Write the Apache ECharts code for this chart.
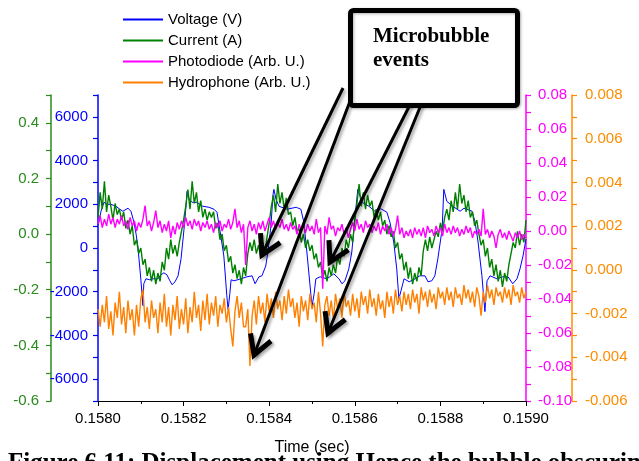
<!DOCTYPE html>
<html><head><meta charset="utf-8">
<script src="https://cdn.jsdelivr.net/npm/echarts@6/dist/echarts.min.js"></script>
<style>html,body{margin:0;padding:0;background:#fff}#c{width:639px;height:461px}</style>
</head><body><div id="c"></div>
<script>
// ---- data (time offsets in microseconds from 0.1580 s) ----
const T0 = 0.1580;
const STEP_US = 5;
const seriesNames = ['Voltage (V)', 'Current (A)', 'Photodiode (Arb. U.)', 'Hydrophone (Arb. U.)'];

const voltageTimeUs = [0,2,7,14,21,30,42,51,58,70,77,84,89,93,100,105,107,112,121,128,140,147,154,161,168,173,180,187,194,201,206,208,213,220,231,245,259,271,278,287,294,301,304,308,311,318,334,348,360,367,371,376,383,392,397,404,409,411,416,423,442,463,474,481,488,495,500,505,509,519,535,551,563,570,577,586,593,600,607,617,633,647,654,663,675,682,691,698,703,708,715,727,741,752,764,771,780,787,794,804,808,815,829,846,855,862,874,881,888,897,904,909,916,932,946,958,969,979,986,993,1000];
const voltageV = [1045,1182,1680,2090,2000,2000,1909,1773,1682,1818,1682,1182,636,91,-1409,-2636,-1636,-1409,-1455,-1409,-1409,-1227,-1136,-1227,-1500,-1682,-1545,-1273,-500,864,2000,2591,2227,2090,2090,1909,1864,1773,1636,545,-364,-2182,-2818,-2091,-1455,-1500,-1409,-1318,-1273,-1636,-1591,-1318,-1273,-818,-182,1000,2455,2682,2227,1909,1773,1864,1773,1182,-182,-1636,-2682,-2091,-1409,-1318,-1409,-1182,-1409,-1636,-1500,-955,-182,1318,2682,2090,1909,1682,1818,1773,1636,1182,273,-955,-2318,-1955,-1409,-1545,-1409,-1273,-1273,-1545,-1500,-1273,-500,864,2682,2136,1909,1682,1818,1773,1682,1182,273,-1273,-2909,-1500,-1273,-1409,-1318,-1318,-1636,-1409,-955,-364,409];

const currentA = [
0.06,0.15,0.09,0.19,0.08,0.14,0.10,0.05,0.11,0.07,
0.09,0.05,0.08,0.02,0.05,0.00,0.03,-0.04,-0.02,-0.07,
-0.05,-0.11,-0.09,-0.15,-0.12,-0.17,-0.13,-0.18,-0.14,-0.17,
-0.10,-0.13,-0.05,-0.09,-0.02,-0.07,-0.04,-0.08,-0.03,0.01,
0.05,0.10,0.16,0.09,0.19,0.11,0.15,0.08,0.12,0.06,
0.09,0.05,0.08,0.06,0.08,0.02,0.04,-0.02,0.00,-0.06,
-0.04,-0.10,-0.08,-0.14,-0.11,-0.16,-0.13,-0.18,-0.12,-0.15,
-0.07,-0.03,-0.06,-0.02,-0.07,-0.04,-0.08,-0.03,-0.06,-0.01,
0.04,0.10,0.14,0.08,0.18,0.11,0.15,0.09,0.13,0.07,
0.08,0.03,0.06,0.01,0.02,-0.03,0.00,-0.05,-0.02,-0.06,
-0.04,-0.09,-0.07,-0.12,-0.10,-0.16,-0.13,-0.17,-0.12,-0.15,
-0.11,-0.14,-0.08,-0.11,-0.05,-0.08,-0.02,-0.05,0.00,-0.03,
0.05,0.11,0.18,0.10,0.15,0.09,0.14,0.10,0.12,0.06,
0.09,0.05,0.08,0.03,0.05,0.00,0.03,-0.01,0.01,-0.05,
-0.03,-0.09,-0.07,-0.13,-0.10,-0.16,-0.12,-0.18,-0.14,-0.17,
-0.12,-0.15,-0.06,-0.02,-0.06,-0.01,-0.05,-0.02,0.01,-0.01,
0.04,0.01,0.06,0.09,0.05,0.12,0.08,0.15,0.09,0.18,
0.11,0.14,0.08,0.12,0.06,0.08,0.03,0.05,0.00,-0.04,
-0.02,-0.08,-0.05,-0.12,-0.09,-0.15,-0.11,-0.17,-0.13,-0.19,
-0.14,-0.17,-0.11,-0.07,-0.03,-0.05,0.01,-0.04,0.00,-0.03,
0.05];

const photodiode = [
0.004,0.009,0.002,0.007,0.003,0.010,0.004,0.008,0.002,0.007,
0.004,0.009,0.003,0.006,0.001,0.008,0.003,0.006,0.000,0.005,
0.002,0.007,0.015,0.003,0.006,0.000,0.005,0.012,0.002,0.006,
-0.001,0.004,0.000,0.006,-0.004,0.003,-0.002,0.005,0.001,0.006,
0.002,0.008,0.003,0.006,0.001,0.007,0.003,0.006,0.000,0.005,
0.002,0.006,0.001,0.004,-0.001,0.005,0.002,0.006,0.000,0.004,
0.002,0.007,0.001,0.005,0.013,0.002,0.006,-0.001,0.004,-0.020,
0.002,0.006,0.000,0.004,-0.002,0.005,0.001,0.006,0.000,0.004,
0.008,0.002,0.006,0.001,0.005,0.002,0.007,0.001,0.004,0.000,
0.005,0.001,0.003,-0.002,0.004,0.000,0.003,-0.001,0.004,0.000,
0.003,-0.002,0.007,-0.001,0.002,-0.034,0.003,-0.002,0.008,0.001,
0.003,-0.003,0.002,0.000,0.004,-0.002,0.002,-0.004,0.001,0.005,
0.000,0.007,0.001,0.004,-0.001,0.006,0.002,0.004,-0.001,0.003,
0.000,0.005,-0.002,0.003,0.000,0.004,-0.002,0.002,-0.003,0.001,
0.009,-0.002,0.002,-0.004,0.000,-0.003,0.001,-0.004,0.002,-0.002,
0.001,-0.003,0.002,-0.004,0.003,-0.001,0.001,-0.003,0.003,-0.001,
0.002,-0.003,0.004,-0.001,0.002,-0.002,0.003,-0.001,0.002,-0.003,
0.001,-0.002,0.003,-0.001,0.002,-0.004,0.000,-0.002,0.001,-0.003,
0.013,-0.002,0.001,-0.004,0.000,-0.003,-0.010,-0.002,0.001,-0.004,
-0.001,-0.005,0.000,-0.003,-0.006,-0.001,-0.004,0.000,-0.005,-0.002,
-0.004];

const hydrophone = [
-0.0018,-0.0026,-0.0016,-0.0024,-0.0012,-0.0027,-0.0019,-0.0030,-0.0015,-0.0022,
-0.0010,-0.0025,-0.0017,-0.0029,-0.0014,-0.0023,-0.0018,-0.0030,-0.0016,-0.0026,
-0.0013,-0.0009,-0.0024,-0.0017,-0.0027,-0.0014,-0.0022,-0.0018,-0.0029,-0.0015,
-0.0024,-0.0011,-0.0026,-0.0017,-0.0030,-0.0016,-0.0023,-0.0012,-0.0027,-0.0018,
-0.0025,-0.0013,-0.0029,-0.0017,-0.0024,-0.0010,-0.0022,-0.0016,-0.0028,-0.0014,
-0.0023,-0.0011,-0.0025,-0.0015,-0.0021,-0.0012,-0.0026,-0.0016,-0.0020,-0.0013,
-0.0024,-0.0017,-0.0027,-0.0035,-0.0019,-0.0012,-0.0022,-0.0015,-0.0026,-0.0026,
-0.0018,-0.0044,-0.0021,-0.0014,-0.0025,-0.0012,-0.0020,-0.0015,-0.0024,-0.0011,
-0.0019,-0.0013,-0.0022,-0.0010,-0.0018,-0.0014,-0.0023,-0.0012,-0.0020,-0.0009,
-0.0017,-0.0013,-0.0022,-0.0015,-0.0026,-0.0012,-0.0019,-0.0014,-0.0023,-0.0011,
-0.0018,-0.0015,-0.0024,-0.0010,-0.0020,-0.0035,-0.0016,-0.0012,-0.0021,-0.0014,
-0.0023,-0.0011,-0.0018,-0.0013,-0.0022,-0.0010,-0.0017,-0.0014,-0.0021,-0.0011,
-0.0019,-0.0013,-0.0022,-0.0010,-0.0016,-0.0012,-0.0020,-0.0009,-0.0017,-0.0013,
-0.0021,-0.0011,-0.0018,-0.0014,-0.0022,-0.0010,-0.0017,-0.0012,-0.0020,-0.0009,
-0.0016,-0.0012,-0.0019,-0.0010,-0.0016,-0.0011,-0.0018,-0.0009,-0.0015,-0.0011,
-0.0020,-0.0008,-0.0014,-0.0010,-0.0017,-0.0009,-0.0015,-0.0011,-0.0018,-0.0008,
-0.0013,-0.0010,-0.0016,-0.0008,-0.0014,-0.0010,-0.0017,-0.0008,-0.0013,-0.0011,
-0.0016,-0.0007,-0.0013,-0.0009,-0.0015,-0.0010,-0.0017,-0.0008,-0.0012,-0.0021,
-0.0010,-0.0015,-0.0007,-0.0013,-0.0009,-0.0016,-0.0008,-0.0012,-0.0010,-0.0015,
-0.0008,-0.0013,-0.0009,-0.0016,-0.0007,-0.0012,-0.0010,-0.0015,-0.0008,-0.0013,
-0.0010];

// ---- build ----
const toT = us => T0 + us * 1e-6;
const voltData = voltageTimeUs.map((us, i) => [toT(us), voltageV[i]]);
const gridData = arr => arr.map((v, i) => [toT(i * STEP_US), v]);

const FONT = "'Liberation Sans', Arial, sans-serif";
const C_BLUE = '#0000ff', C_GREEN = '#2a8a1e', C_MAG = '#ff00ff', C_ORG = '#ff8c00';

function yAx(color, pos, offset, min, max, interval, fmt, margin) {
  return {
    type: 'value', position: pos, offset: offset, min: min, max: max, interval: interval,
    axisLine: { show: true, onZero: false, lineStyle: { color: color, width: 1.5 } },
    axisTick: { show: true, length: 5, lineStyle: { color: color, width: 1.2 } },
    axisLabel: { color: color, fontSize: 15, fontFamily: FONT, margin: margin, formatter: fmt },
    splitLine: { show: false }
  };
}

function arrow(x1, y1, x2, y2) {
  const a = Math.atan2(y1 - y2, x1 - x2);
  const L = 22, s = 0.52;
  const shadow = { shadowColor: 'rgba(0,0,0,0.35)', shadowBlur: 3, shadowOffsetX: 2, shadowOffsetY: 2 };
  return [
    { type: 'line', z: 100, shape: { x1: x1, y1: y1, x2: x2, y2: y2 },
      style: Object.assign({ stroke: '#000', lineWidth: 3 }, shadow) },
    { type: 'polyline', z: 100, shape: { points: [
        [x2 + L * Math.cos(a + s), y2 + L * Math.sin(a + s)], [x2, y2],
        [x2 + L * Math.cos(a - s), y2 + L * Math.sin(a - s)]] },
      style: Object.assign({ stroke: '#000', lineWidth: 5, lineJoin: 'miter', fill: null }, shadow) }
  ];
}

const chart = echarts.init(document.getElementById('c'), null, { renderer: 'canvas' });
const option = {
  animation: false,
  backgroundColor: '#fff',
  grid: { left: 98, right: 113, top: 95, bottom: 58, containLabel: false },
  legend: {
    orient: 'vertical', left: 123, top: 12, padding: 0, itemWidth: 40, itemHeight: 14, itemGap: 6,
    icon: 'path://M0,6 L40,6 L40,8 L0,8 Z',
    textStyle: { fontSize: 15, fontFamily: FONT, color: '#000' },
    data: seriesNames
  },
  xAxis: {
    type: 'value', min: 0.1580, max: 0.1590, interval: 0.0002,
    name: 'Time (sec)', nameLocation: 'middle', nameGap: 39,
    nameTextStyle: { fontSize: 16, fontFamily: FONT, color: '#000' },
    axisLine: { onZero: false, lineStyle: { color: '#000', width: 1.2 } },
    axisTick: { length: 5, lineStyle: { color: '#000' } },
    minorTick: { show: true, splitNumber: 2, length: 3, lineStyle: { color: '#000' } },
    axisLabel: { fontSize: 15, fontFamily: FONT, color: '#000', margin: 10,
      formatter: v => v.toFixed(4) },
    splitLine: { show: false }
  },
  yAxis: [
    yAx(C_BLUE, 'left', 0, -7000, 7000, 1000,
      v => (Math.round(v / 1000) % 2 === 0 ? String(Math.round(v)) : ''), 10),
    yAx(C_GREEN, 'left', 47, -0.6, 0.5, 0.1,
      v => (Math.round(v * 10) % 2 === 0 ? v.toFixed(1) : ''), 12),
    yAx(C_MAG, 'right', 0, -0.10, 0.08, 0.01,
      v => (Math.round(v * 100) % 2 === 0 ? v.toFixed(2) : ''), 12),
    yAx(C_ORG, 'right', 46, -0.006, 0.008, 0.001,
      v => (Math.round(v * 1000) % 2 === 0 ? v.toFixed(3) : ''), 13)
  ],
  series: [
    { name: seriesNames[0], type: 'line', yAxisIndex: 0, data: voltData, symbol: 'none',
      lineStyle: { color: C_BLUE, width: 1 }, itemStyle: { color: C_BLUE } },
    { name: seriesNames[1], type: 'line', yAxisIndex: 1, data: gridData(currentA), symbol: 'none',
      lineStyle: { color: '#008000', width: 1.4 }, itemStyle: { color: '#008000' } },
    { name: seriesNames[2], type: 'line', yAxisIndex: 2, data: gridData(photodiode), symbol: 'none',
      lineStyle: { color: C_MAG, width: 1.4 }, itemStyle: { color: C_MAG } },
    { name: seriesNames[3], type: 'line', yAxisIndex: 3, data: gridData(hydrophone), symbol: 'none',
      lineStyle: { color: '#ff8000', width: 1.4 }, itemStyle: { color: '#ff8000' } }
  ],
  graphic: [].concat(
    arrow(343, 88, 262, 255),
    arrow(355, 88, 254, 355),
    arrow(415, 95, 330, 262),
    arrow(425, 95, 328, 333),
    [
      { type: 'rect', z: 110, shape: { x: 350.5, y: 10.5, width: 167, height: 95, r: 3 },
        style: { fill: '#fff', stroke: '#000', lineWidth: 5,
          shadowColor: 'rgba(0,0,0,0.3)', shadowBlur: 3, shadowOffsetX: 1, shadowOffsetY: 1 } },
      { type: 'text', z: 120, left: 373, top: 25,
        style: { text: 'Microbubble\nevents', fill: '#000', lineHeight: 24,
          font: "bold 21px 'Liberation Serif', 'Times New Roman', serif" } },
      { type: 'text', z: 120, left: 8, top: 451,
        style: { text: 'Figure 6.11: Displacement using Hence the bubble obscuring', fill: '#000',
          font: "bold 25px 'Liberation Serif', 'Times New Roman', serif" } }
    ]
  )
};
chart.setOption(option);
</script>
</body></html>
